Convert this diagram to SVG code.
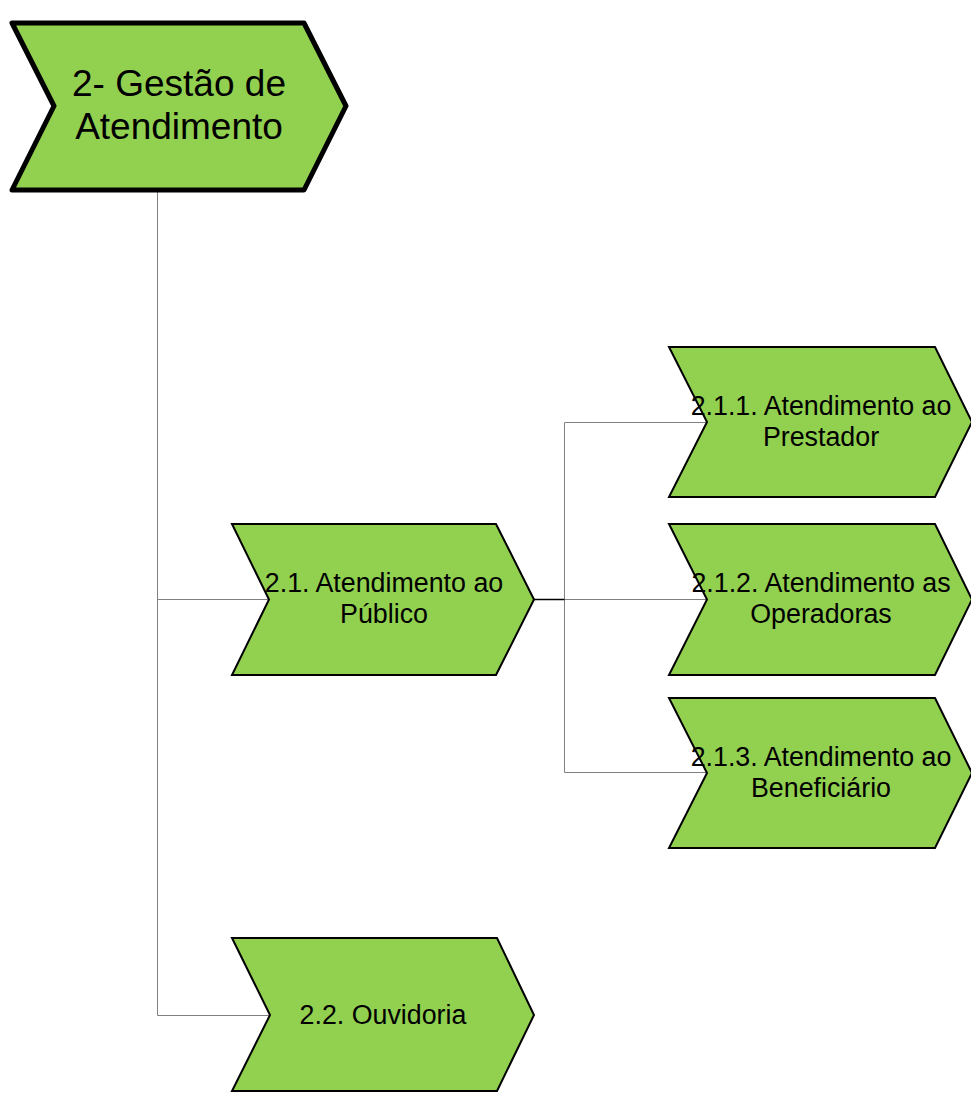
<svg xmlns="http://www.w3.org/2000/svg" width="971" height="1100" viewBox="0 0 971 1100">
<style>
.n{fill:#92D050;stroke:#000;stroke-width:2;stroke-linejoin:miter}
.t{font-family:"Liberation Sans",Arial,sans-serif;font-size:26.8px;fill:#000;text-anchor:middle}
.c{fill:none;stroke:#808080;stroke-width:1}
</style>
<rect width="971" height="1100" fill="#fff"/>
<g id="connectors">
<path class="c" d="M157.5 190 V1015.5 H270"/>
<path class="c" d="M157.5 599.5 H269"/>
<path class="c" d="M564.5 599.5 V422.5 H708"/>
<path class="c" d="M564.5 599.5 H708"/>
<path class="c" d="M564.5 599.5 V772.5 H708"/>
<path d="M534 599.5 H564.5" fill="none" stroke="#000" stroke-width="1.5"/>
</g>
<g id="node-2">
<polygon points="12,23 304,23 346,106 304,190 12,190 54,106" fill="#92D050" stroke="#000" stroke-width="5" stroke-linejoin="round"/>
<text class="t" x="179" y="96" style="font-size:37px">2- Gestão de</text>
<text class="t" x="179" y="139" style="font-size:37px">Atendimento</text>
</g>
<g id="node-2-1">
<polygon class="n" points="232,524 496,524 534,599.5 496,675 232,675 269,599.5"/>
<text class="t" x="384" y="592">2.1. Atendimento ao</text>
<text class="t" x="384" y="623">Público</text>
</g>
<g id="node-2-1-1">
<polygon class="n" points="669,347 935,347 972,422 935,497 669,497 707,422"/>
<text class="t" x="821" y="415">2.1.1. Atendimento ao</text>
<text class="t" x="821" y="446">Prestador</text>
</g>
<g id="node-2-1-2">
<polygon class="n" points="669,524 935,524 972,599.5 935,675 669,675 707,599.5"/>
<text class="t" x="821" y="592">2.1.2. Atendimento as</text>
<text class="t" x="821" y="623">Operadoras</text>
</g>
<g id="node-2-1-3">
<polygon class="n" points="669,698 935,698 972,773 935,848 669,848 707,773"/>
<text class="t" x="821" y="766">2.1.3. Atendimento ao</text>
<text class="t" x="821" y="797">Beneficiário</text>
</g>
<g id="node-2-2">
<polygon class="n" points="232,938 497,938 534,1015 497,1091 232,1091 270,1015"/>
<text class="t" x="383" y="1024">2.2. Ouvidoria</text>
</g>
</svg>
